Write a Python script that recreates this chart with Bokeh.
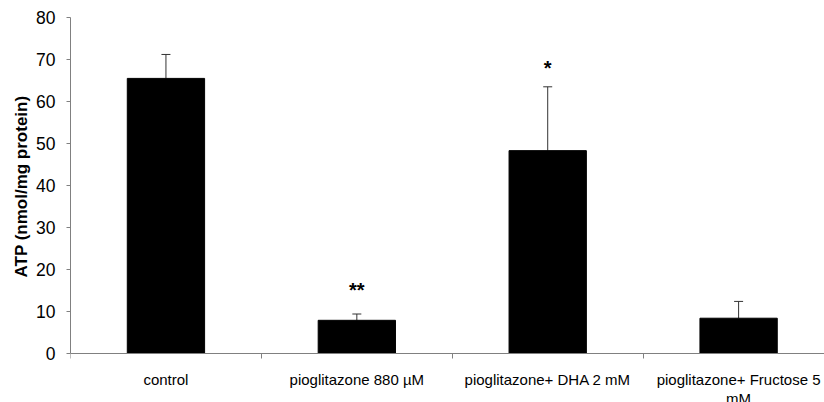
from bokeh.plotting import figure
from bokeh.models import ColumnDataSource, FixedTicker, Range1d, Whisker, TeeHead, Title
from bokeh.core.properties import value
from bokeh.embed import file_html
from bokeh.resources import INLINE

categories = ["control", "pioglitazone 880 µM", "pioglitazone+ DHA 2 mM", "pioglitazone+ Fructose 5\nmM"]
atp_mean = [65.5, 7.9, 48.3, 8.4]
atp_sd = [5.7, 1.5, 15.2, 4.0]
sig_marks = ["", "**", "*", ""]
sig_y = [0, 15.0, 68.0, 0]
y_ticks = [0, 10, 20, 30, 40, 50, 60, 70, 80]
y_title = "ATP (nmol/mg protein)"

xs = [i + 0.5 for i in range(len(categories))]
bounds = list(range(len(categories) + 1))
upper = [m + s for m, s in zip(atp_mean, atp_sd)]

# frame spans from the top border down to the bottom of the canvas;
# the category axis is pinned at y = 0 so its labels sit below the bars
p = figure(width=824, height=402, output_backend="svg", toolbar_location=None,
           x_range=Range1d(0, 3.95), y_range=Range1d(-11.67, 80),
           min_border_left=70, min_border_right=0, min_border_top=17, min_border_bottom=0)
p.outline_line_color = None
p.xgrid.visible = False
p.ygrid.visible = False
p.background_fill_color = "white"
p.border_fill_color = "white"

src = ColumnDataSource(dict(x=xs, top=atp_mean, upper=upper, lower=atp_mean))
w = Whisker(base="x", upper="upper", lower="lower", source=src, dimension="height",
            line_color="#333333", line_width=1,
            upper_head=TeeHead(size=9, line_color="#333333", line_width=1), lower_head=None)
p.add_layout(w)
p.vbar(x="x", top="top", width=0.405, bottom=0, source=src, fill_color="black", line_color="black")

ssrc = ColumnDataSource(dict(x=xs, y=sig_y, t=sig_marks))
p.text(x="x", y="y", text="t", source=ssrc, text_align="center", text_baseline="middle",
       text_font=value("Liberation Sans"), text_font_size="20px", text_font_style="bold",
       text_color="black")

# y axis
ya = p.yaxis[0]
ya.bounds = (0, 80)
ya.ticker = FixedTicker(ticks=y_ticks)
ya.axis_line_color = "#808080"
ya.major_tick_line_color = "#808080"
ya.major_tick_out = 4
ya.major_tick_in = 0
ya.minor_tick_line_color = None
ya.major_label_standoff = 11
ya.major_label_text_font = "Liberation Sans"
ya.major_label_text_font_size = "17.5px"
ya.major_label_text_color = "black"

# y axis title, centred on the 0..80 span rather than on the whole frame
t = Title(text=y_title, align="left", offset=125, standoff=6,
          text_font="Liberation Sans", text_font_size="17px", text_font_style="bold",
          text_color="black")
p.add_layout(t, "left")

# x axis
xa = p.xaxis[0]
xa.fixed_location = 0
xa.ticker = FixedTicker(ticks=xs, minor_ticks=bounds)
xa.major_label_overrides = {x: c for x, c in zip(xs, categories)}
xa.axis_line_color = "#808080"
xa.major_tick_line_color = None
xa.major_tick_out = 0
xa.major_tick_in = 0
xa.minor_tick_line_color = "#808080"
xa.minor_tick_out = 5
xa.minor_tick_in = 0
xa.major_label_standoff = 13
xa.major_label_text_font = "Liberation Sans"
xa.major_label_text_font_size = "15px"
xa.major_label_text_color = "black"
xa.major_label_text_line_height = 1.08

open("out.html", "w").write(file_html(p, INLINE))
